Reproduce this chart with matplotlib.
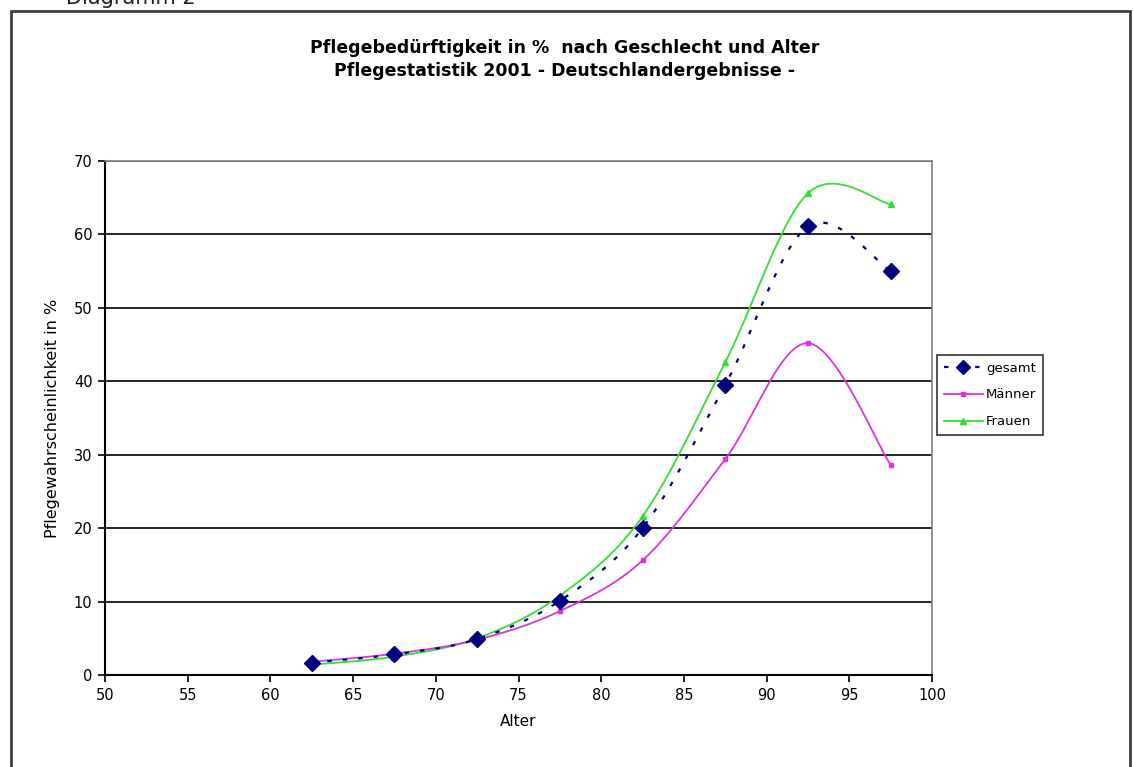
import numpy as np
import matplotlib
matplotlib.use("Agg")
import matplotlib.pyplot as plt
from matplotlib.patches import Rectangle

plt.rcParams['font.family'] = ['DejaVu Sans']

# Altersklassen (Mitte) und Pflegewahrscheinlichkeit in %
alter = [62.5, 67.5, 72.5, 77.5, 82.5, 87.5, 92.5, 97.5]
gesamt = [1.7, 2.8, 4.9, 10.1, 20.0, 39.5, 61.1, 55.0]
maenner = [1.8, 2.9, 4.8, 8.7, 15.6, 29.4, 45.2, 28.6]
frauen = [1.4, 2.5, 5.0, 10.8, 21.6, 42.6, 65.6, 64.1]


# Excel-artige Glaettung (Catmull-Rom zwischen den Punkten)
def smooth(x, y, n=30):
    x = np.asarray(x, float)
    y = np.asarray(y, float)
    px = np.concatenate([[x[0]], x, [x[-1]]])
    py = np.concatenate([[y[0]], y, [y[-1]]])
    xs, ys = [], []
    t = np.linspace(0, 1, n)
    for i in range(1, len(px) - 2):
        p0, p1, p2, p3 = px[i-1], px[i], px[i+1], px[i+2]
        q0, q1, q2, q3 = py[i-1], py[i], py[i+1], py[i+2]
        c1x, c1y = p1 + (p2 - p0) / 6, q1 + (q2 - q0) / 6
        c2x, c2y = p2 - (p3 - p1) / 6, q2 - (q3 - q1) / 6
        bx = (1-t)**3*p1 + 3*(1-t)**2*t*c1x + 3*(1-t)*t**2*c2x + t**3*p2
        by = (1-t)**3*q1 + 3*(1-t)**2*t*c1y + 3*(1-t)*t**2*c2y + t**3*q2
        xs.append(bx)
        ys.append(by)
    return np.concatenate(xs), np.concatenate(ys)


fig = plt.figure(figsize=(11.33, 7.67), dpi=100)

# aeusserer Rahmen
fig.patches.append(Rectangle((11/1133, -0.05), 1119/1133, 0.05 + 1 - 11/767,
                             transform=fig.transFigure, fill=False,
                             edgecolor='#404040', linewidth=2))
fig.text(0.058, 1.0 + 0.002, "Diagramm 2", fontsize=15, color='#222222',
         ha='left', va='center')

ax = fig.add_axes([105/1133, 92/767, 827/1133, 514/767])

col_g = '#000080'
col_m = '#DD33DD'
col_f = '#33DD33'

sx, sy = smooth(alter, frauen)
ax.plot(sx, sy, color=col_f, lw=1.3, zorder=3)
ax.plot(alter, frauen, ls='none', marker='^', ms=5, color=col_f, zorder=4)

sx, sy = smooth(alter, maenner)
ax.plot(sx, sy, color=col_m, lw=1.3, zorder=3)
ax.plot(alter, maenner, ls='none', marker='s', ms=3.5, color=col_m, zorder=4)

sx, sy = smooth(alter, gesamt)
ax.plot(sx, sy, color=col_g, lw=1.6, ls=(0, (2, 5)), zorder=5)
ax.plot(alter, gesamt, ls='none', marker='D', ms=8, color=col_g, zorder=6)

# Legende
h1, = ax.plot([], [], color=col_g, lw=1.6, ls=(0, (2, 5)), marker='D', ms=7)
h2, = ax.plot([], [], color=col_m, lw=1.3, marker='s', ms=3.5)
h3, = ax.plot([], [], color=col_f, lw=1.3, marker='^', ms=5)
leg = fig.legend([h1, h2, h3], ['gesamt', 'Männer', 'Frauen'],
                 loc='upper left', bbox_to_anchor=(937/1133, 1 - 355/767),
                 fontsize=9.5, frameon=True, fancybox=False, shadow=False,
                 borderpad=0.5, labelspacing=1.05, handlelength=3.0,
                 handletextpad=0.2, borderaxespad=0)
leg.get_frame().set_edgecolor('black')
leg.get_frame().set_linewidth(1.2)

ax.set_xlim(50, 100)
ax.set_ylim(0, 70)
ax.set_xticks(np.arange(50, 101, 5))
ax.set_yticks(np.arange(0, 71, 10))
ax.tick_params(labelsize=10.5, direction='out', length=5, width=1.2, pad=4)
ax.yaxis.grid(True, color='black', lw=1.2)
ax.set_axisbelow(True)
for s in ['left', 'bottom']:
    ax.spines[s].set_color('black')
    ax.spines[s].set_linewidth(1.5)
for s in ['top', 'right']:
    ax.spines[s].set_color('#808080')
    ax.spines[s].set_linewidth(1.2)

ax.set_xlabel('Alter', fontsize=11, labelpad=8)
ax.set_ylabel('Pflegewahrscheinlichkeit in %', fontsize=11.5, labelpad=10)

fig.text(565/1133, 1 - 48/767, 'Pflegebedürftigkeit in %  nach Geschlecht und Alter',
         fontsize=12.5, fontweight='bold', ha='center', va='center')
fig.text(565/1133, 1 - 71/767, 'Pflegestatistik 2001 - Deutschlandergebnisse -',
         fontsize=12.5, fontweight='bold', ha='center', va='center')

fig.savefig('out.png', dpi=100)
